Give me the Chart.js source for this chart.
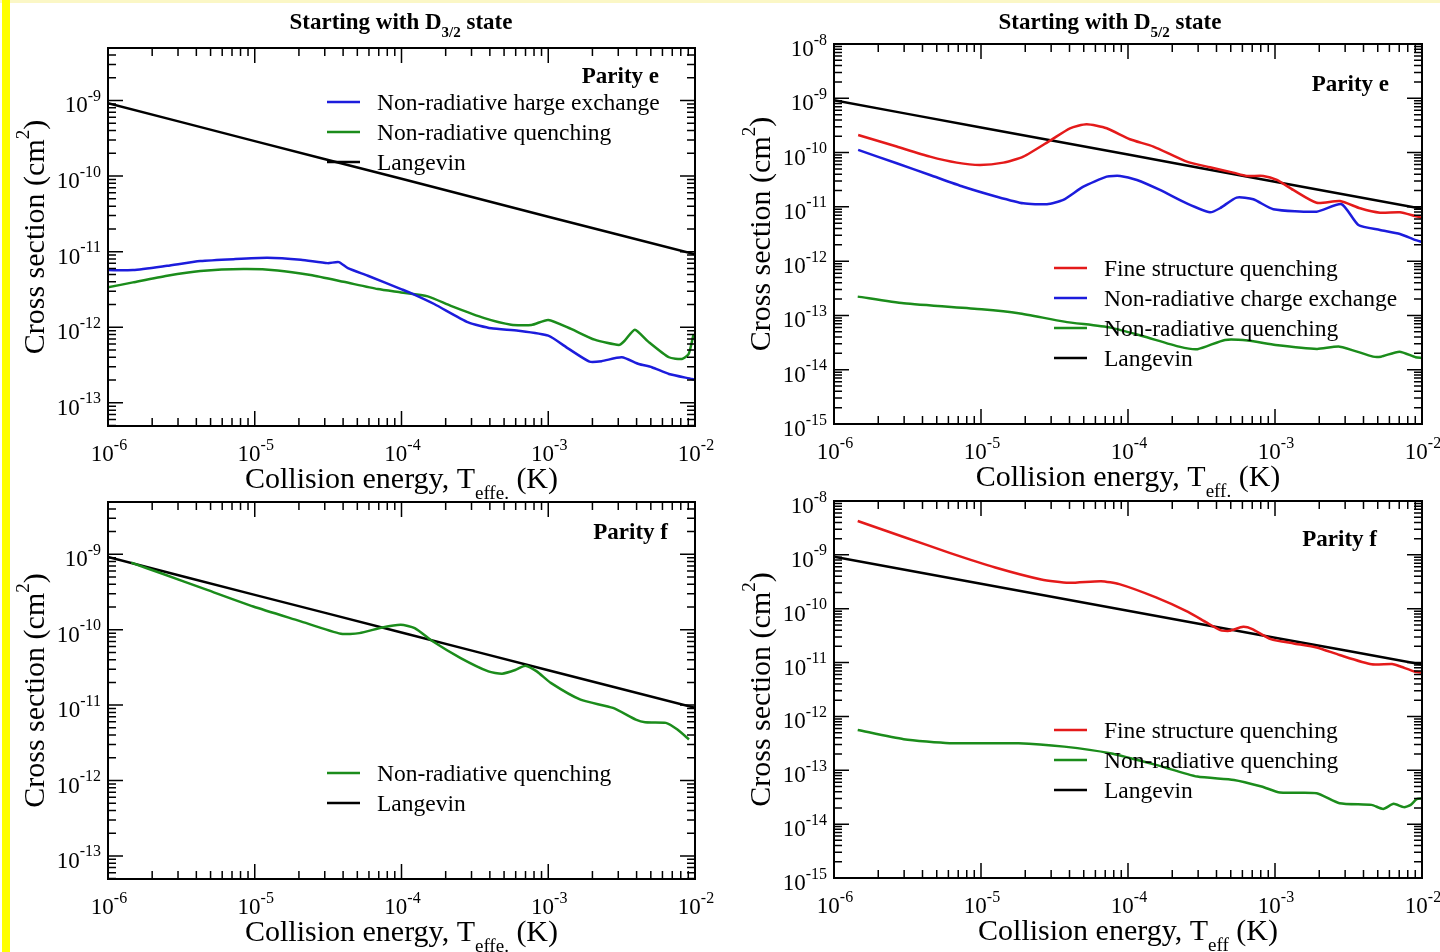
<!DOCTYPE html>
<html>
<head>
<meta charset="utf-8">
<title>Cross sections</title>
<script src="https://cdn.jsdelivr.net/npm/chart.js@4.4.1/dist/chart.umd.min.js"></script>
<style>
html, body { margin: 0; padding: 0; background: #fff; }
#page { position: relative; width: 1440px; height: 952px; overflow: hidden; background: #fff; }
#page canvas { position: absolute; left: 0; top: 0; }
#edgeTop { position: absolute; left: 0; top: 0; width: 1440px; height: 3px; background: #fbf7c6; }
#edgeLeft { position: absolute; left: 2px; top: 0; width: 8px; height: 952px; background: #ffff00; }
</style>
</head>
<body>
<div id="page">
  <div id="edgeTop"></div>
  <div id="edgeLeft"></div>
  <canvas id="c1" width="1440" height="952"></canvas>
  <canvas id="c2" width="1440" height="952"></canvas>
  <canvas id="c3" width="1440" height="952"></canvas>
  <canvas id="c4" width="1440" height="952"></canvas>
</div>
<script>
// tick labels
const energyTicks = [1e-6, 1e-5, 1e-4, 1e-3, 1e-2];
const sigmaTicksShort = [1e-9, 1e-10, 1e-11, 1e-12, 1e-13];
const sigmaTicksLong = [1e-8, 1e-9, 1e-10, 1e-11, 1e-12, 1e-13, 1e-14, 1e-15];

// Langevin (same in all panels)
const langevinE = [1e-6, 1e-5, 1e-4, 1e-3, 1e-2];
const langevinS = [9.2e-10, 2.9e-10, 9.2e-11, 2.9e-11, 9.2e-12];

// D3/2, parity e
const d32eChargeE = [1.0e-6, 1.48e-6, 2.53e-6, 4.26e-6, 7.16e-6, 1.22e-5, 2.06e-5, 3.14e-5, 3.74e-5, 4.31e-5, 5.9e-5, 9.93e-5, 1.16e-4, 1.67e-4, 2.85e-4, 4.09e-4, 6.26e-4, 1.0e-3, 1.38e-3, 1.91e-3, 2.31e-3, 3.17e-3, 4.14e-3, 5.08e-3, 6.64e-3, 9.53e-3, 1.0e-2];
const d32eChargeS = [5.7e-12, 5.7e-12, 6.5e-12, 7.5e-12, 7.96e-12, 8.28e-12, 7.8e-12, 7.05e-12, 7.26e-12, 6.05e-12, 4.8e-12, 3.2e-12, 2.83e-12, 2.03e-12, 1.16e-12, 9.68e-13, 9.0e-13, 7.74e-13, 5.17e-13, 3.51e-13, 3.56e-13, 4.01e-13, 3.27e-13, 2.96e-13, 2.41e-13, 2.07e-13, 2.02e-13];
const d32eQuenchE = [1.0e-6, 1.48e-6, 2.53e-6, 4.26e-6, 8.38e-6, 1.43e-5, 2.4e-5, 4.03e-5, 6.89e-5, 9.93e-5, 1.51e-4, 2.17e-4, 3.67e-4, 5.59e-4, 7.67e-4, 1.0e-3, 1.43e-3, 2.07e-3, 3.03e-3, 3.32e-3, 3.89e-3, 4.8e-3, 6.64e-3, 8.14e-3, 9.05e-3, 9.75e-3];
const d32eQuenchS = [3.37e-12, 3.92e-12, 4.8e-12, 5.53e-12, 5.88e-12, 5.65e-12, 4.9e-12, 3.99e-12, 3.2e-12, 2.89e-12, 2.56e-12, 1.92e-12, 1.32e-12, 1.08e-12, 1.07e-12, 1.25e-12, 9.5e-13, 6.85e-13, 5.83e-13, 6.64e-13, 9.29e-13, 6.45e-13, 4.01e-13, 3.81e-13, 4.43e-13, 7.91e-13];

// D5/2, parity e
const d52eFineE = [1.46e-6, 2.67e-6, 4.5e-6, 6.84e-6, 9.84e-6, 1.42e-5, 1.94e-5, 2.95e-5, 4.03e-5, 5.23e-5, 7.16e-5, 1.03e-4, 1.49e-4, 2.51e-4, 3.61e-4, 5.2e-4, 6.41e-4, 8.32e-4, 1.03e-3, 1.33e-3, 1.92e-3, 2.77e-3, 3.79e-3, 5.18e-3, 7.08e-3, 8.95e-3, 1.0e-2];
const d52eFineS = [2.11e-10, 1.29e-10, 8.41e-11, 6.53e-11, 5.92e-11, 6.53e-11, 8.41e-11, 1.66e-10, 2.8e-10, 3.32e-10, 2.8e-10, 1.76e-10, 1.29e-10, 6.79e-11, 5.36e-11, 4.27e-11, 3.71e-11, 3.71e-11, 3.13e-11, 2.05e-11, 1.19e-11, 1.28e-11, 9.42e-12, 7.81e-12, 7.94e-12, 6.79e-12, 6.3e-12];
const d52eChargeE = [1.46e-6, 2.67e-6, 4.5e-6, 7.58e-6, 1.28e-5, 1.94e-5, 2.81e-5, 3.63e-5, 4.97e-5, 7.16e-5, 8.84e-5, 1.15e-4, 1.65e-4, 2.51e-4, 3.61e-4, 4.22e-4, 5.48e-4, 7.12e-4, 9.74e-4, 1.92e-3, 2.84e-3, 3.69e-3, 5.18e-3, 7.08e-3, 8.95e-3, 1.0e-2];
const d52eChargeS = [1.12e-10, 6.35e-11, 3.87e-11, 2.35e-11, 1.54e-11, 1.16e-11, 1.12e-11, 1.34e-11, 2.35e-11, 3.6e-11, 3.71e-11, 3.13e-11, 2.05e-11, 1.16e-11, 7.94e-12, 9.42e-12, 1.48e-11, 1.38e-11, 9.04e-12, 8.16e-12, 1.12e-11, 4.64e-12, 3.76e-12, 3.17e-12, 2.46e-12, 2.25e-12];
const d52eQuenchE = [1.45e-6, 2.98e-6, 1.01e-5, 1.8e-5, 3.69e-5, 7.59e-5, 1.25e-4, 2.23e-4, 2.97e-4, 4.57e-4, 6.55e-4, 1.01e-3, 1.93e-3, 2.76e-3, 4.65e-3, 5.26e-3, 7.03e-3, 9.04e-3, 1.0e-2];
const d52eQuenchS = [2.22e-13, 1.67e-13, 1.3e-13, 1.1e-13, 7.69e-14, 5.96e-14, 4.19e-14, 2.66e-14, 2.39e-14, 3.54e-14, 3.44e-14, 2.86e-14, 2.42e-14, 2.66e-14, 1.74e-14, 1.74e-14, 2.15e-14, 1.7e-14, 1.65e-14];

// D3/2, parity f
const d32fQuenchE = [1.44e-6, 2.3e-6, 4.74e-6, 9.77e-6, 2.01e-5, 3.86e-5, 5.16e-5, 7.4e-5, 9.89e-5, 1.23e-4, 1.64e-4, 2.53e-4, 3.91e-4, 4.85e-4, 6.03e-4, 6.97e-4, 8.35e-4, 1.04e-3, 1.66e-3, 2.76e-3, 3.95e-3, 4.57e-3, 6.33e-3, 7.59e-3, 9.1e-3];
const d32fQuenchS = [7.74e-10, 5.61e-10, 3.37e-10, 2.03e-10, 1.31e-10, 8.83e-11, 9.01e-11, 1.07e-10, 1.16e-10, 1.05e-10, 6.98e-11, 4.21e-11, 2.8e-11, 2.61e-11, 2.95e-11, 3.33e-11, 2.8e-11, 1.97e-11, 1.18e-11, 9.18e-12, 6.43e-12, 5.92e-12, 5.81e-12, 4.74e-12, 3.5e-12];

// D5/2, parity f
const d52fFineE = [1.45e-6, 2.98e-6, 6.11e-6, 1.25e-5, 2.57e-5, 3.96e-5, 6.55e-5, 8.73e-5, 1.55e-4, 2.56e-4, 3.41e-4, 4.24e-4, 4.89e-4, 6.07e-4, 7.01e-4, 9.35e-4, 1.34e-3, 1.92e-3, 2.75e-3, 4.54e-3, 6.27e-3, 6.98e-3, 8.99e-3, 1.0e-2];
const d52fFineS = [4.26e-9, 2.15e-9, 1.09e-9, 5.82e-10, 3.49e-10, 3.02e-10, 3.24e-10, 2.86e-10, 1.62e-10, 8.75e-11, 5.57e-11, 4.01e-11, 3.89e-11, 4.61e-11, 4.18e-11, 2.73e-11, 2.27e-11, 1.91e-11, 1.38e-11, 9.27e-12, 9.4e-12, 8.63e-12, 6.76e-12, 6.5e-12];
const d52fQuenchE = [1.45e-6, 2.98e-6, 6.11e-6, 1.8e-5, 3.68e-5, 7.55e-5, 1.55e-4, 2.96e-4, 5.26e-4, 8.1e-4, 1.08e-3, 1.92e-3, 2.75e-3, 4.54e-3, 5.44e-3, 6.41e-3, 7.52e-3, 8.38e-3, 9.19e-3, 1.0e-2];
const d52fQuenchS = [5.61e-13, 3.78e-13, 3.18e-13, 3.18e-13, 2.75e-13, 2.07e-13, 1.26e-13, 7.64e-14, 6.63e-14, 4.99e-14, 3.86e-14, 3.76e-14, 2.45e-14, 2.28e-14, 1.92e-14, 2.38e-14, 2.07e-14, 2.28e-14, 2.91e-14, 3.0e-14];

const RED = '#e41a1a', BLUE = '#1c1cdc', GREEN = '#1b8c1b', BLACK = '#000000';
const SERIF = '"Liberation Serif", "Times New Roman", serif';

function pts(xs, ys) {
    return xs.map((x, i) => ({ x: x, y: ys[i] }));
}

function line(label, color, xs, ys) {
    return {
        label: label,
        data: pts(xs, ys),
        borderColor: color,
        backgroundColor: color,
        borderWidth: 2.5,
        pointRadius: 0,
        tension: 0.2,
        fill: false
    };
}

// parts: [text, mode] with mode 0 normal, 1 superscript, -1 subscript
function drawRich(ctx, parts, x, y, size, bold, align, small) {
    const weight = bold ? 'bold ' : '';
    const ratio = small || 0.64;
    const fontOf = p => weight + (p[1] ? Math.round(size * ratio) : size) + 'px ' + SERIF;
    const widths = parts.map(p => {
        ctx.font = fontOf(p);
        return ctx.measureText(p[0]).width;
    });
    const total = widths.reduce((a, b) => a + b, 0);
    let cx = align === 'center' ? x - total / 2 : (align === 'right' ? x - total : x);
    ctx.textAlign = 'left';
    ctx.textBaseline = 'alphabetic';
    parts.forEach((p, i) => {
        ctx.font = fontOf(p);
        const dy = p[1] === 1 ? -size * 0.5 : (p[1] === -1 ? size * 0.36 : 0);
        ctx.fillText(p[0], cx, y + dy);
        cx += widths[i];
    });
}

function powLabel(v) {
    return [['10', 0], [String(Math.round(Math.log10(v))), 1]];
}

const framePlugin = {
    id: 'xmFrame',
    afterDraw(chart) {
        const ctx = chart.ctx;
        const a = chart.chartArea;
        const xs = chart.scales.x;
        const ys = chart.scales.y;
        const opt = chart.options.plugins.xmFrame;
        ctx.save();
        ctx.fillStyle = '#000';
        ctx.strokeStyle = '#000';

        // log ticks, inward on all four sides
        ctx.lineWidth = 1.5;
        const drawTicks = (scale, horizontal) => {
            const lo = Math.floor(Math.log10(scale.min));
            const hi = Math.ceil(Math.log10(scale.max));
            for (let d = lo; d <= hi; d++) {
                for (let k = 1; k <= 9; k++) {
                    const v = k * Math.pow(10, d);
                    if (v < scale.min * 0.999 || v > scale.max * 1.001) continue;
                    const len = k === 1 ? 15 : 8;
                    const p = scale.getPixelForValue(v);
                    ctx.beginPath();
                    if (horizontal) {
                        ctx.moveTo(p, a.bottom); ctx.lineTo(p, a.bottom - len);
                        ctx.moveTo(p, a.top); ctx.lineTo(p, a.top + len);
                    } else {
                        ctx.moveTo(a.left, p); ctx.lineTo(a.left + len, p);
                        ctx.moveTo(a.right, p); ctx.lineTo(a.right - len, p);
                    }
                    ctx.stroke();
                }
            }
        };
        drawTicks(xs, true);
        drawTicks(ys, false);

        ctx.lineWidth = 2;
        ctx.strokeRect(a.left, a.top, a.right - a.left, a.bottom - a.top);

        // tick labels
        opt.xTicks.forEach(v => {
            drawRich(ctx, powLabel(v), xs.getPixelForValue(v) + 1, a.bottom + 35, 23, false, 'center', 0.7);
        });
        opt.yTicks.forEach(v => {
            drawRich(ctx, powLabel(v), a.left - 7, ys.getPixelForValue(v) + 12, 23, false, 'right', 0.7);
        });

        // axis titles
        drawRich(ctx, opt.xTitle, (a.left + a.right) / 2, a.bottom + 62, 30, false, 'center');
        ctx.save();
        ctx.translate(a.left - 64, (a.top + a.bottom) / 2);
        ctx.rotate(-Math.PI / 2);
        drawRich(ctx, [['Cross section (cm', 0], ['2', 1], [')', 0]], 0, 0, 30, false, 'center');
        ctx.restore();

        // panel title
        if (opt.title) {
            drawRich(ctx, opt.title, opt.titleAt[0], opt.titleAt[1], 23, true, 'center');
        }
        drawRich(ctx, [[opt.parity, 0]], opt.parityAt[0], opt.parityAt[1], 23, true, 'right');

        // legend
        chart.data.datasets.forEach((ds, i) => {
            const y = opt.legendAt[1] + i * 30;
            ctx.strokeStyle = ds.borderColor;
            ctx.lineWidth = 2.5;
            ctx.beginPath();
            ctx.moveTo(opt.legendAt[0], y);
            ctx.lineTo(opt.legendAt[0] + 33, y);
            ctx.stroke();
            ctx.fillStyle = '#000';
            drawRich(ctx, [[ds.label, 0]], opt.legendAt[0] + 50, y + 8, 23.5, false, 'left');
        });
        ctx.restore();
    }
};

function makePanel(id, area, yMin, yMax, datasets, frame) {
    new Chart(document.getElementById(id).getContext('2d'), {
        type: 'line',
        data: { datasets: datasets },
        options: {
            responsive: false,
            animation: false,
            devicePixelRatio: 1,
            events: [],
            layout: {
                padding: { left: area[0], top: area[1], right: 1440 - area[2], bottom: 952 - area[3] }
            },
            scales: {
                x: { type: 'logarithmic', min: 1e-6, max: 1e-2, display: false },
                y: { type: 'logarithmic', min: yMin, max: yMax, display: false }
            },
            plugins: {
                legend: { display: false },
                tooltip: { enabled: false },
                xmFrame: frame
            }
        },
        plugins: [framePlugin]
    });
}

makePanel('c1', [108, 48, 695, 426], 4.94e-14, 4.94e-9, [
    line('Non-radiative harge exchange', BLUE, d32eChargeE, d32eChargeS),
    line('Non-radiative quenching', GREEN, d32eQuenchE, d32eQuenchS),
    line('Langevin', BLACK, langevinE, langevinS)
], {
    xTicks: energyTicks, yTicks: sigmaTicksShort,
    xTitle: [['Collision energy, T', 0], ['effe.', -1], [' (K)', 0]],
    title: [['Starting with D', 0], ['3/2', -1], [' state', 0]], titleAt: [401, 29],
    parity: 'Parity e', parityAt: [659, 83], legendAt: [327, 102]
});

makePanel('c2', [834, 44, 1422, 424], 1e-15, 1e-8, [
    line('Fine structure quenching', RED, d52eFineE, d52eFineS),
    line('Non-radiative charge exchange', BLUE, d52eChargeE, d52eChargeS),
    line('Non-radiative quenching', GREEN, d52eQuenchE, d52eQuenchS),
    line('Langevin', BLACK, langevinE, langevinS)
], {
    xTicks: energyTicks, yTicks: sigmaTicksLong,
    xTitle: [['Collision energy, T', 0], ['eff.', -1], [' (K)', 0]],
    title: [['Starting with D', 0], ['5/2', -1], [' state', 0]], titleAt: [1110, 29],
    parity: 'Parity e', parityAt: [1389, 91], legendAt: [1054, 268]
});

makePanel('c3', [108, 502, 695, 879], 4.94e-14, 4.94e-9, [
    line('Non-radiative quenching', GREEN, d32fQuenchE, d32fQuenchS),
    line('Langevin', BLACK, langevinE, langevinS)
], {
    xTicks: energyTicks, yTicks: sigmaTicksShort,
    xTitle: [['Collision energy, T', 0], ['effe.', -1], [' (K)', 0]],
    title: null,
    parity: 'Parity f', parityAt: [668, 539], legendAt: [327, 773]
});

makePanel('c4', [834, 501, 1422, 878], 1e-15, 1e-8, [
    line('Fine structure quenching', RED, d52fFineE, d52fFineS),
    line('Non-radiative quenching', GREEN, d52fQuenchE, d52fQuenchS),
    line('Langevin', BLACK, langevinE, langevinS)
], {
    xTicks: energyTicks, yTicks: sigmaTicksLong,
    xTitle: [['Collision energy, T', 0], ['eff', -1], [' (K)', 0]],
    title: null,
    parity: 'Parity f', parityAt: [1377, 546], legendAt: [1054, 730]
});
</script>
</body>
</html>
